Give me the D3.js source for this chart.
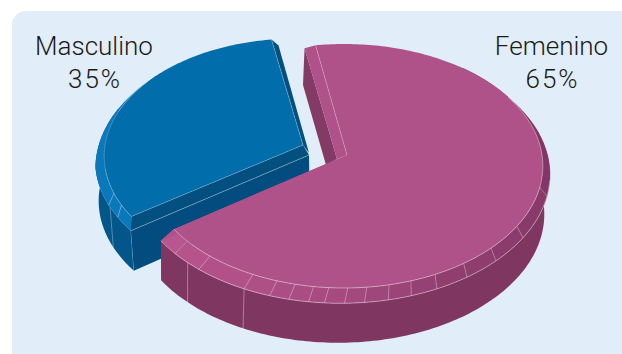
<!DOCTYPE html>
<html>
<head>
<meta charset="utf-8">
<style>html,body{margin:0;padding:0;background:#fff}svg{display:block}</style>
<script src="https://cdn.jsdelivr.net/npm/d3@7"></script>
</head>
<body>
<svg id="chart" width="622" height="354"></svg>
<script>
// Sex distribution
const categories = ["Femenino", "Masculino"];
const shares = [65, 35];

// Facet seams on the rims, in degrees clockwise from the top of the disc
const pinkRimSeams = [105,124,136,146,155,162,168,174,179,184,188,193,198,205,219,228];
const pinkWallSeams = [205,223];
const blueRimSeams = [241,247];
const blueWallSeams = [243];

const svg = d3.select("#chart");
const rad = Math.PI / 180;

// Pie angles mapped to the angles of the tilted drawing, one scale per slice
const pie = d3.pie().sort(null).value(d => d)(shares);
const pinkView = d3.scaleLinear().domain([pie[0].startAngle, pie[0].endAngle]).range([-9, 234.5]);
const blueView = d3.scaleLinear().domain([pie[1].startAngle, pie[1].endAngle]).range([235, 352]);

const radiusX = 198, radiusY = 121, tilt = 0.09;

// Ground-plane point to screen, with a slight perspective toward the viewer
function project(theta, c, r = 1, sx = 1) {
  const u = Math.sin(theta * rad) * r, v = -Math.cos(theta * rad) * r;
  const s = 1 / (1 - tilt * v);
  return [c.x + radiusX * u * s * sx, c.y + radiusY * v * s];
}
const line = d3.line();
const closed = pts => line(pts) + "Z";
const arcPts = (a0, a1, c, r, sx) =>
  d3.range(a0, a1, 1).concat([a1]).map(t => project(t, c, r, sx));

// Panel
svg.append("rect").attr("x", 12).attr("y", 11).attr("width", 640).attr("height", 380)
  .attr("rx", 14).attr("fill", "#e1edf9");

const seam = (g, a, b, op = 0.4) => g.append("path").attr("d", line([a, b]))
  .attr("fill", "none").attr("stroke", "#fff").attr("stroke-opacity", op).attr("stroke-width", 0.8);
const poly = (g, pts, fill) => g.append("path").attr("d", closed(pts)).attr("fill", fill);

// Male slice
{
  const a0 = blueView(pie[1].startAngle), a1 = blueView(pie[1].endAngle);
  const g = svg.append("g");
  const apex = [303, 145];
  const top = { x: 296, y: 146 }, topK = 0.965;
  const rim = { x: 294, y: 150 };
  const foot = { x: 294.5, y: 190 };
  const rimStart = 231, bandEnd = 305;

  // Bevel narrows to nothing along the upper left of the disc
  const fade = d3.scaleLinear().domain([262, bandEnd]).range([1, 0]).clamp(true);
  const rimAt = t => {
    const p = project(t, top, topK), q = project(t, rim, 1);
    return [p[0] + (q[0] - p[0]) * fade(t), p[1] + (q[1] - p[1]) * fade(t)];
  };
  const rimPts = d3.range(rimStart, bandEnd + 1, 1).map(rimAt);

  poly(g, rimPts.slice(0, 60).concat(arcPts(rimStart, rimStart + 59, foot, 1, 0.985).reverse()), "#02568a");
  blueWallSeams.forEach(t => seam(g, project(t, rim, 1), project(t, foot, 1, 0.985)));
  seam(g, project(rimStart, rim, 1), project(rimStart, foot, 1, 0.985));

  poly(g, rimPts.concat(arcPts(a0, bandEnd, top, topK).reverse()), "#0a79bb");
  blueRimSeams.forEach(t => seam(g, project(t, top, topK), project(t - 3, rim, 1), 0.45));

  // Cut faces
  const corner = project(a0, top, topK);
  const rimCorner = project(rimStart, rim, 1), footCorner = project(rimStart, foot, 1, 0.985);
  const inner = [309, 155], innerFoot = [309.5, 193];
  poly(g, [corner, apex, inner, rimCorner], "#024f80");
  poly(g, [rimCorner, inner, innerFoot, footCorner], "#024c7f");
  seam(g, rimCorner, inner, 0.4);

  // Back cut strip
  const back = project(a1, top, topK);
  poly(g, [back, [back[0] + 7, back[1] + 6], [309, 153], apex], "#024f80");

  poly(g, arcPts(a0, a1, top, topK).concat([apex]), "#016dab");
  g.append("path").attr("d", line(arcPts(a0, bandEnd, top, topK)))
    .attr("fill", "none").attr("stroke", "#fff").attr("stroke-opacity", 0.35).attr("stroke-width", 0.7);
  seam(g, corner, apex, 0.3);
  seam(g, back, apex, 0.3);
}

// Female slice
{
  const a0 = pinkView(pie[0].startAngle), a1 = pinkView(pie[0].endAngle);
  const g = svg.append("g");
  const apex = [347, 155];
  const top = { x: 344, y: 155 };
  const rim = { x: 340.5, y: 162.5 };
  const foot = { x: 338, y: 202 };
  const rimK = 1.053, footK = 1.053;
  const rimShade = d3.scaleLinear()
    .domain([100, 150, 180, 205, 232])
    .range(["#87386a", "#8f3e6e", "#a64a81", "#af5087", "#b9558f"]);

  // Outer wall
  const wallA = 60, wallB = a1;
  poly(g, arcPts(wallA, wallB, rim, rimK).concat(arcPts(wallA, wallB, foot, footK, 0.985).reverse()), "#7f3762");
  pinkWallSeams.forEach(t => seam(g, project(t, rim, rimK), project(t, foot, footK, 0.985), 0.45));

  // Bevelled rim, one facet between each pair of seams
  const edges = [40].concat(pinkRimSeams, [a1]);
  d3.pairs(edges).forEach(([p, q]) => {
    poly(g, arcPts(p, q, top, 1).concat(arcPts(p, q, rim, rimK).reverse()), rimShade((p + q) / 2))
      .attr("stroke", rimShade((p + q) / 2)).attr("stroke-width", 0.4);
  });
  pinkRimSeams.forEach(t => seam(g, project(t, top), project(t, rim, rimK), 0.35));
  g.append("path").attr("d", line(arcPts(98, a1, rim, rimK)))
    .attr("fill", "none").attr("stroke", "#fff").attr("stroke-opacity", 0.5).attr("stroke-width", 0.8);

  // Strip along the back cut
  const start = project(a0, top);
  const startOuter = [start[0] - 11, start[1] + 3];
  const base = [apex[0] - 10, apex[1] + 4];
  poly(g, [startOuter, [303, 85], [326, 165], base], "#843a66");
  poly(g, [start, startOuter, base, apex], "#b0528a");

  // Top face
  const end = project(a1, top);
  poly(g, arcPts(a0, a1, top, 1).concat([apex]), "#b0528a");
  poly(g, [end, project(a1, rim, rimK), [apex[0] - 2, apex[1] + 1], apex], "#b0528a");
  g.append("path").attr("d", line(arcPts(60, a1, top, 1)))
    .attr("fill", "none").attr("stroke", "#fff").attr("stroke-opacity", 0.5).attr("stroke-width", 0.8);
  seam(g, start, apex, 0.3);
}

// Labels
const labelSpots = [{ x: 551.5, y: 55 }, { x: 94, y: 55 }];
const labels = svg.append("g").attr("font-family", "Roboto, sans-serif")
  .attr("font-weight", 300).attr("font-size", 26).attr("fill", "#1a1a1a").attr("text-anchor", "middle");
categories.forEach((name, i) => {
  labels.append("text").attr("x", labelSpots[i].x).attr("y", labelSpots[i].y).text(name);
  labels.append("text").attr("x", labelSpots[i].x + 1).attr("y", labelSpots[i].y + 32.5)
    .attr("letter-spacing", 2).text(shares[i] + "%");
});
</script>
</body>
</html>
